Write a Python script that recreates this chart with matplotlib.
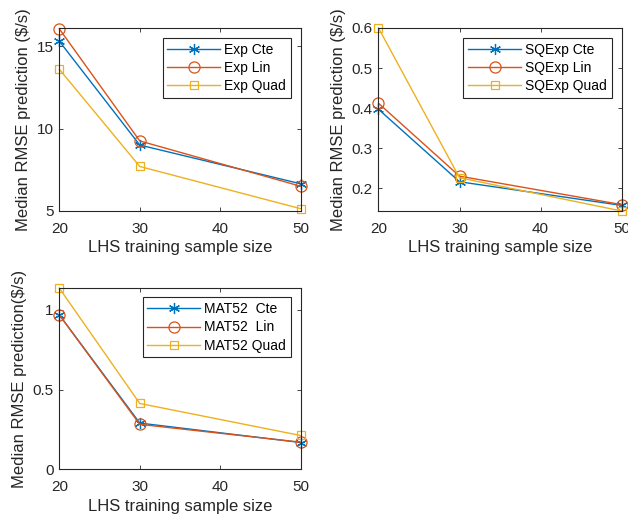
import numpy as np
import matplotlib.pyplot as plt
from matplotlib.ticker import FormatStrFormatter

plt.rcParams['font.family'] = ['Liberation Sans', 'DejaVu Sans']

# LHS training sample sizes
sample_size = [20, 30, 50]

# Median RMSE per kernel / basis function
exp_cte = [15.3, 9.0, 6.65]
exp_lin = [16.05, 9.25, 6.5]
exp_quad = [13.6, 7.7, 5.14]

sqexp_cte = [0.397, 0.216, 0.157]
sqexp_lin = [0.412, 0.230, 0.159]
sqexp_quad = [0.600, 0.226, 0.143]

mat52_cte = [0.969, 0.290, 0.168]
mat52_lin = [0.969, 0.282, 0.170]
mat52_quad = [1.137, 0.413, 0.212]

blue = '#0072BD'
red = '#D95319'
yellow = '#EDB120'
axcol = '#262626'

# six-armed asterisk, like the classic '*' marker
asterisk = (6, 2, 0)


def draw_panel(ax, series, labels, ylim, yticks, ylabel):
    styles = [(blue, asterisk, 8), (red, 'o', 8), (yellow, 's', 6)]
    for vals, lab, (c, m, ms) in zip(series, labels, styles):
        ax.plot(sample_size, vals, color=c, marker=m, markersize=ms,
                markerfacecolor='none', markeredgewidth=0.9,
                linewidth=1.0, label=lab, clip_on=False)
    ax.set_xlim(20, 50)
    ax.set_ylim(*ylim)
    ax.set_xticks([20, 30, 40, 50])
    ax.set_yticks(yticks)
    ax.yaxis.set_major_formatter(FormatStrFormatter('%g'))
    ax.set_xlabel('LHS training sample size', fontsize=12, color=axcol,
                  labelpad=3)
    ax.set_ylabel(ylabel, fontsize=12, color=axcol, labelpad=4)
    ax.tick_params(direction='in', length=3, width=0.6, top=True, right=True,
                   labelsize=11, colors=axcol)
    ax.tick_params(axis='x', pad=8)
    ax.tick_params(axis='y', pad=4)
    for sp in ax.spines.values():
        sp.set_color(axcol)
        sp.set_linewidth(0.8)
    leg = ax.legend(loc='upper right', fontsize=10, handlelength=3.8,
                    handletextpad=0.3, borderpad=0.35, labelspacing=0.3,
                    fancybox=False, framealpha=1, borderaxespad=0.7)
    leg.get_frame().set_edgecolor(axcol)
    leg.get_frame().set_linewidth(0.8)


fig = plt.figure(figsize=(6.28, 5.22), dpi=100)

ax1 = fig.add_axes([0.0944, 0.5958, 0.3844, 0.3506])
draw_panel(ax1, [exp_cte, exp_lin, exp_quad],
           ['Exp Cte', 'Exp Lin', 'Exp Quad'],
           (5, 16.1), [5, 10, 15], r'Median RMSE prediction (\$/s)')

ax2 = fig.add_axes([0.6027, 0.5958, 0.387, 0.3506])
draw_panel(ax2, [sqexp_cte, sqexp_lin, sqexp_quad],
           ['SQExp Cte', 'SQExp Lin', 'SQExp Quad'],
           (0.143, 0.6), [0.2, 0.3, 0.4, 0.5, 0.6], r'Median RMSE prediction (\$/s)')

ax3 = fig.add_axes([0.0944, 0.101, 0.3844, 0.348])
draw_panel(ax3, [mat52_cte, mat52_lin, mat52_quad],
           ['MAT52  Cte', 'MAT52  Lin', 'MAT52 Quad'],
           (0, 1.14), [0, 0.5, 1], r'Median RMSE prediction(\$/s)')

fig.savefig('out.png', dpi=100)
